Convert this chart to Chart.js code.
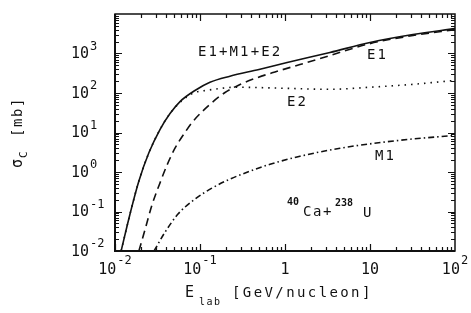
<!DOCTYPE html>
<html>
<head>
<meta charset="utf-8">
<style>
  html, body { margin: 0; padding: 0; background: #fff; }
</style>
</head>
<body>
<canvas id="chart" width="471" height="313"></canvas>
<script src="https://cdn.jsdelivr.net/npm/chart.js@4/dist/chart.umd.min.js"></script>
<script>
// E1+M1+E2 (solid)
const totalE = [0.0118, 0.015, 0.0191, 0.0251, 0.0338, 0.0444, 0.0582, 0.0873, 0.131, 0.225, 0.494, 1.06, 3.38, 10, 32, 100];
const totalSigma = [0.01, 0.0855, 0.593, 3.11, 11.9, 30.2, 60.7, 116, 187, 266, 394, 593, 1060, 1900, 3020, 4270];
// E1 (dashed)
const e1E = [0.0191, 0.0225, 0.0272, 0.0348, 0.0409, 0.0508, 0.0667, 0.0828, 0.131, 0.197, 0.296, 0.444, 0.762, 1.5, 3.38, 10, 32, 100];
const e1Sigma = [0.01, 0.034, 0.145, 0.62, 1.49, 4.0, 10.1, 19.2, 51.5, 103, 165, 234, 341, 525, 890, 1780, 2850, 4036];
// E2 (dotted)
const e2E = [0.0118, 0.015, 0.0191, 0.0251, 0.0338, 0.0444, 0.0582, 0.083, 0.121, 0.272, 0.946, 3.38, 10, 32, 100];
const e2Sigma = [0.01, 0.0855, 0.593, 3.11, 11.9, 30.2, 58, 99, 117, 140, 132, 124, 140, 166, 209];
// M1 (dash-dot)
const m1E = [0.0288, 0.0388, 0.0551, 0.0873, 0.138, 0.225, 0.387, 0.667, 1.5, 4.44, 22.5, 100];
const m1Sigma = [0.01, 0.03, 0.086, 0.206, 0.39, 0.66, 1.05, 1.57, 2.5, 4.0, 6.35, 8.5];

const xTicks = [0.01, 0.1, 1, 10, 100];
const xTickLabels = [['10', '-2'], ['10', '-1'], ['1', ''], ['10', ''], ['10', '2']];
const yTicks = [0.01, 0.1, 1, 10, 100, 1000];
const yTickLabels = [['10', '-2'], ['10', '-1'], ['10', '0'], ['10', '1'], ['10', '2'], ['10', '3']];

const MONO = "'DejaVu Sans Mono', monospace";

const toPts = (xs, ys) => xs.map((x, i) => ({ x: x, y: ys[i] }));

const spaced = (ctx, px) => { ctx.letterSpacing = px + 'px'; };

// frame, inward ticks, tick labels and text annotations
const decor = {
  id: 'decor',
  afterDraw(chart) {
    const ctx = chart.ctx;
    const a = chart.chartArea;
    const xs = chart.scales.x, ys = chart.scales.y;
    ctx.save();
    ctx.strokeStyle = '#111';
    ctx.fillStyle = '#111';

    // frame
    ctx.lineWidth = 1.5;
    ctx.strokeRect(a.left, a.top, a.right - a.left, a.bottom - a.top);
    ctx.lineWidth = 2;
    ctx.beginPath();
    ctx.moveTo(a.left, a.top); ctx.lineTo(a.left, a.bottom); ctx.lineTo(a.right, a.bottom);
    ctx.stroke();

    // ticks
    ctx.lineWidth = 1.2;
    ctx.beginPath();
    for (let d = -2; d <= 1; d++) {
      for (let m = 1; m <= 9; m++) {
        const px = Math.round(xs.getPixelForValue(m * Math.pow(10, d))) + 0.5;
        const len = m === 1 ? 7 : 4;
        ctx.moveTo(px, a.bottom); ctx.lineTo(px, a.bottom - len);
        ctx.moveTo(px, a.top); ctx.lineTo(px, a.top + len);
      }
    }
    for (let d = -2; d <= 3; d++) {
      for (let m = 1; m <= 9; m++) {
        const py = Math.round(ys.getPixelForValue(m * Math.pow(10, d))) + 0.5;
        const len = m === 1 ? 7 : 4;
        ctx.moveTo(a.left, py); ctx.lineTo(a.left + len, py);
        ctx.moveTo(a.right, py); ctx.lineTo(a.right - len, py);
      }
    }
    ctx.stroke();

    // tick labels
    ctx.textBaseline = 'middle';
    ctx.textAlign = 'left';
    const base = '15px ' + MONO, sup = '12px ' + MONO;
    spaced(ctx, 0);
    xTicks.forEach((v, i) => {
      const [b, e] = xTickLabels[i];
      ctx.font = base; const wb = ctx.measureText(b).width;
      ctx.font = sup; const we = e ? ctx.measureText(e).width + 1 : 0;
      const cx = xs.getPixelForValue(v);
      const x0 = cx - (wb + we) / 2;
      ctx.font = base; ctx.fillText(b, x0, a.bottom + 19);
      if (e) { ctx.font = sup; ctx.fillText(e, x0 + wb + 1, a.bottom + 10); }
    });
    yTicks.forEach((v, i) => {
      const [b, e] = yTickLabels[i];
      const cy = ys.getPixelForValue(v);
      ctx.font = base; const wb = ctx.measureText(b).width;
      ctx.fillText(b, 71, cy + 1);
      ctx.font = sup; ctx.fillText(e, 71 + wb + 1, cy - 7);
    });

    // x title
    ctx.font = '15px ' + MONO; spaced(ctx, 0);
    ctx.fillText('E', 185, 293);
    ctx.font = '10px ' + MONO; spaced(ctx, 1.5);
    ctx.fillText('lab', 199, 302);
    ctx.font = '14px ' + MONO; spaced(ctx, 2.4);
    ctx.fillText('[GeV/nucleon]', 232, 293);

    // y title (rotated)
    ctx.save();
    ctx.translate(18, 168);
    ctx.rotate(-Math.PI / 2);
    ctx.font = '15px ' + MONO; spaced(ctx, 0);
    ctx.fillText('\u03c3', 0, 0);
    ctx.font = '11px ' + MONO;
    ctx.fillText('C', 10, 6);
    ctx.font = '14px ' + MONO; spaced(ctx, 1.6);
    ctx.fillText('[mb]', 31, 0);
    ctx.restore();

    // curve labels
    ctx.font = '14px ' + MONO; spaced(ctx, 2.1);
    ctx.fillText('E1+M1+E2', 198, 52);
    ctx.fillText('E1', 367, 55);
    ctx.fillText('E2', 287, 102);
    ctx.fillText('M1', 375, 156);

    // reaction label
    ctx.font = 'bold 10px ' + MONO; spaced(ctx, 0);
    ctx.fillText('40', 287, 202);
    ctx.fillText('238', 335, 203);
    ctx.font = '14px ' + MONO; spaced(ctx, 1.6);
    ctx.fillText('Ca+', 303, 212);
    ctx.fillText('U', 363, 213);

    ctx.restore();
  }
};

const lineStyle = (dash) => ({
  borderColor: '#111',
  borderWidth: 1.6,
  borderDash: dash,
  pointRadius: 0,
  fill: false,
  cubicInterpolationMode: 'monotone'
});

new Chart(document.getElementById('chart'), {
  type: 'line',
  data: {
    datasets: [
      Object.assign({ label: 'E1+M1+E2', data: toPts(totalE, totalSigma) }, lineStyle([])),
      Object.assign({ label: 'E1', data: toPts(e1E, e1Sigma) }, lineStyle([8, 5])),
      Object.assign({ label: 'E2', data: toPts(e2E, e2Sigma) }, lineStyle([1.5, 5])),
      Object.assign({ label: 'M1', data: toPts(m1E, m1Sigma) }, lineStyle([6, 3, 1.5, 3]))
    ]
  },
  options: {
    responsive: false,
    devicePixelRatio: 1,
    animation: false,
    layout: { padding: { left: 115, right: 16, top: 14, bottom: 62 } },
    plugins: { legend: { display: false }, tooltip: { enabled: false } },
    scales: {
      x: { type: 'logarithmic', min: 0.01, max: 100, display: false },
      y: { type: 'logarithmic', min: 0.01, max: 10000, display: false }
    }
  },
  plugins: [decor]
});
</script>
</body>
</html>
